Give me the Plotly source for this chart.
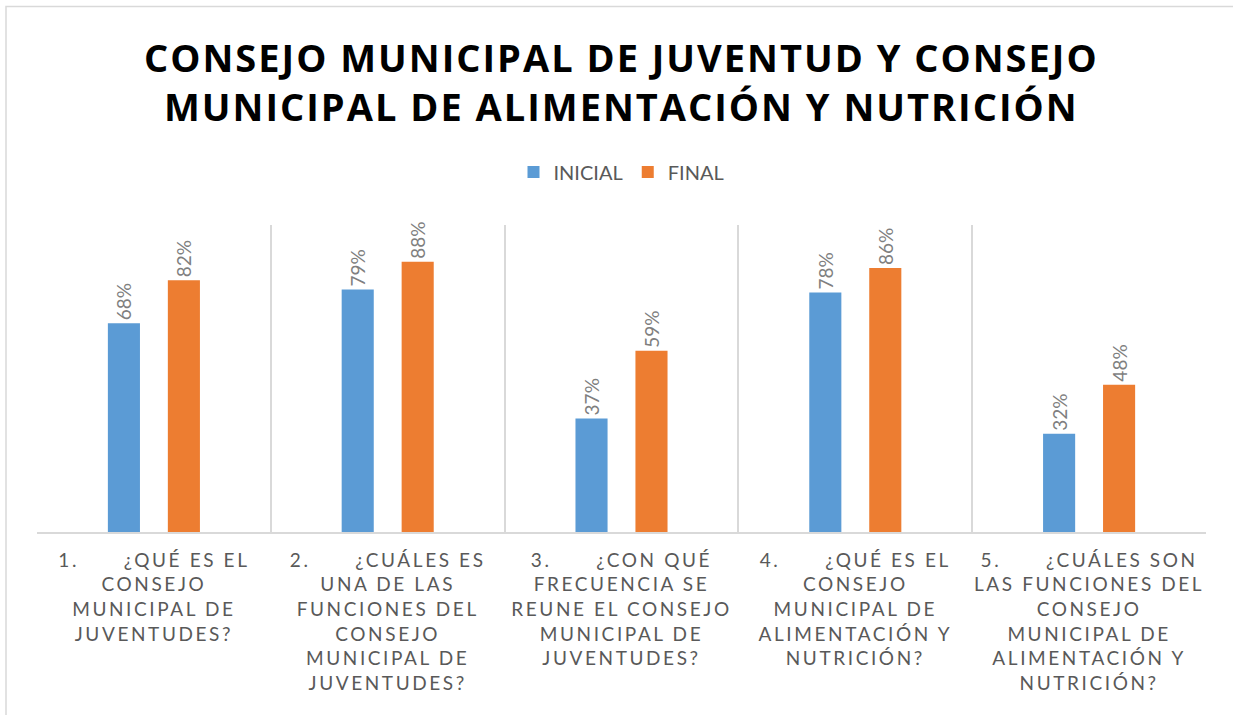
import plotly.graph_objects as go

NB = "\u00a0"
categories = [
    "1." + NB * 6 + "¿QUÉ ES EL<br>CONSEJO<br>MUNICIPAL DE<br>JUVENTUDES?",
    "2." + NB * 6 + "¿CUÁLES ES<br>UNA DE LAS<br>FUNCIONES DEL<br>CONSEJO<br>MUNICIPAL DE<br>JUVENTUDES?",
    "3." + NB * 6 + "¿CON QUÉ<br>FRECUENCIA SE<br>REUNE EL CONSEJO<br>MUNICIPAL DE<br>JUVENTUDES?",
    "4." + NB * 6 + "¿QUÉ ES EL<br>CONSEJO<br>MUNICIPAL DE<br>ALIMENTACIÓN Y<br>NUTRICIÓN?",
    "5." + NB * 6 + "¿CUÁLES SON<br>LAS FUNCIONES DEL<br>CONSEJO<br>MUNICIPAL DE<br>ALIMENTACIÓN Y<br>NUTRICIÓN?",
]
inicial = [0.68, 0.79, 0.37, 0.78, 0.32]
final = [0.82, 0.88, 0.59, 0.86, 0.48]
series_names = ["INICIAL", "FINAL"]
colors = ["#5B9BD5", "#ED7D31"]
title_text = "CONSEJO MUNICIPAL DE JUVENTUD Y CONSEJO<br>MUNICIPAL DE ALIMENTACIÓN Y NUTRICIÓN"

fig = go.Figure()
for name, vals, col in zip(series_names, [inicial, final], colors):
    fig.add_trace(go.Bar(
        x=categories, y=vals, name=name, marker_color=col, marker_line_width=0,
        texttemplate="%{y:.0%}", textposition="outside", textangle=-90,
        constraintext="none",
        textfont=dict(color="#7f7f7f", size=19, family="Lato"),
        cliponaxis=False,
    ))

fig.update_layout(
    width=1233, height=715,
    margin=dict(l=37, r=27, t=225, b=183),
    paper_bgcolor="white", plot_bgcolor="white",
    barmode="group", bargap=0.487, bargroupgap=0.465,
    legend=dict(orientation="h", x=0.5, xanchor="center", y=1.173, yanchor="middle",
                font=dict(family="Lato", size=20, color="#595959"), itemwidth=30),
    xaxis=dict(type="category", tickson="boundaries", showgrid=True, gridcolor="#d9d9d9",
               gridwidth=1.5, showline=True, linecolor="#d9d9d9", linewidth=1.5,
               ticks="", ticklabelstandoff=10,
               tickfont=dict(family="Lato", size=19, color="#595959")),
    yaxis=dict(range=[0, 1], visible=False),
    annotations=[dict(text=title_text, xref="paper", yref="paper", x=0.5, y=(532 - 81) / 307,
                      xanchor="center", yanchor="middle", showarrow=False,
                      font=dict(family="Open Sans", size=38, color="black", weight="bold"))],
    shapes=[dict(type="rect", xref="paper", yref="paper",
                 x0=-31 / 1169, x1=1.05, y0=-0.7, y1=(532 - 6.5) / 307,
                 line=dict(color="#d9d9d9", width=1.5), fillcolor="rgba(0,0,0,0)", layer="below")],
)

post = """
document.body.style.margin='0';
document.querySelectorAll('.xtick text').forEach(function(t){t.style.letterSpacing='2.6px';});
document.querySelectorAll('.annotation-text').forEach(function(t){t.style.letterSpacing='2px';});
"""
fig.write_html("out.html", post_script=post, config={"displayModeBar": False})
